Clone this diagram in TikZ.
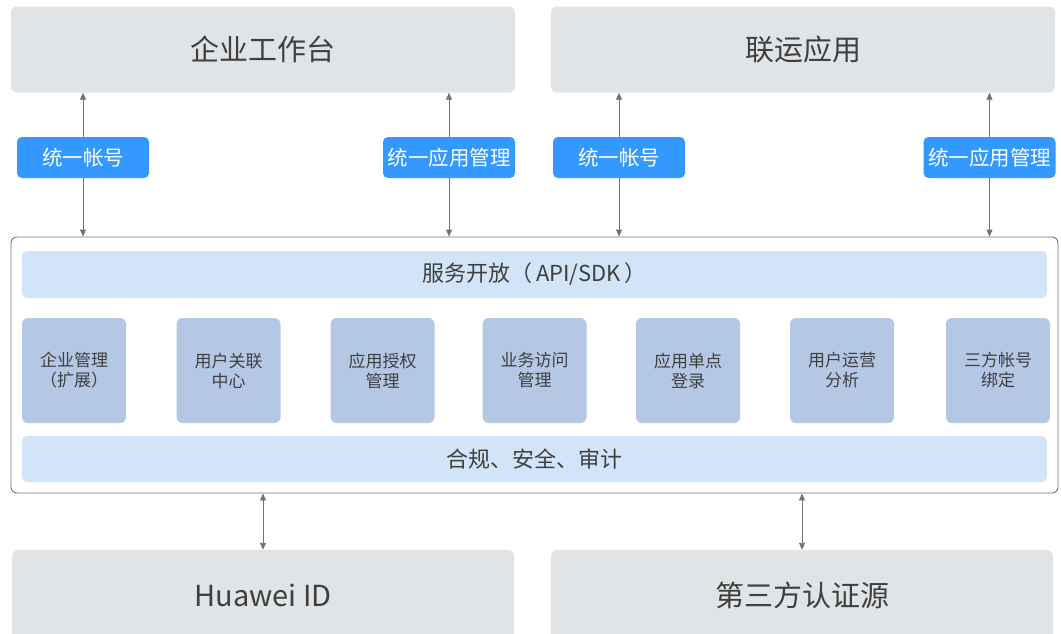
\documentclass[tikz,border=0pt]{standalone}
\usepackage{fontspec}
\setmainfont{Noto Sans CJK SC}
\usetikzlibrary{arrows.meta}

\definecolor{boxgray}{HTML}{E1E4E6}
\definecolor{tagblue}{HTML}{3399FF}
\definecolor{barblue}{HTML}{D2E5F8}
\definecolor{modblue}{HTML}{B4C7E5}
\definecolor{txtgray}{HTML}{3F3F3F}
\definecolor{linegray}{HTML}{737373}

\begin{document}
\begin{tikzpicture}[x=1pt,y=-1pt,
  outer/.style={fill=boxgray,rounded corners=6pt,minimum width=504pt,minimum height=86pt,inner sep=0pt,text=txtgray,font=\fontsize{29}{34}\selectfont},
  tag/.style={fill=tagblue,rounded corners=5pt,minimum width=132pt,minimum height=41pt,inner sep=0pt,text=white,font=\fontsize{20.5}{24}\selectfont},
  bar/.style={fill=barblue,rounded corners=5pt,minimum width=1025pt,minimum height=47pt,inner sep=0pt,text=txtgray,font=\fontsize{22}{26}\selectfont},
  module/.style={fill=modblue,rounded corners=6pt,minimum width=104pt,minimum height=105pt,inner sep=0pt,align=center,text=txtgray,font=\fontsize{17}{20}\selectfont},
  conn/.style={draw=linegray,line width=0.9pt},
  tip/.style={-{Triangle[length=7pt,width=6pt]}},
  both/.style={{Triangle[length=7pt,width=6pt]}-{Triangle[length=7pt,width=6pt]}}
]
\useasboundingbox (0,0) rectangle (1061,633);

% top
\node[outer] (wt) at (263,49.5) {企业工作台};
\node[outer] (ly) at (803,49.5) {联运应用};

\node[tag] (wtacc) at (83,157.5) {统一帐号};
\node[tag] (wtapp) at (449,157.5) {统一应用管理};
\node[tag] (lyacc) at (619,157.5) {统一帐号};
\node[tag] (lyapp) at (989.5,157.5) {统一应用管理};

% main box
\node[draw=linegray,line width=0.9pt,rounded corners=6pt,minimum width=1047pt,minimum height=256pt,inner sep=0pt] (core) at (534.5,365) {};

\node[bar] (api) at (534.5,274.5) {服务开放（\,API/SDK\,）};
\node[bar,minimum height=46pt] (audit) at (534.5,459) {合规、安全、审计};

\node[module] (m1) at (74,370.5) {企业管理\\（扩展）};
\node[module] (m2) at (228.5,370.5) {用户关联\\中心};
\node[module] (m3) at (382.5,370.5) {应用授权\\管理};
\node[module] (m4) at (534.5,370.5) {业务访问\\管理};
\node[module] (m5) at (688,370.5) {应用单点\\登录};
\node[module] (m6) at (842,370.5) {用户运营\\分析};
\node[module] (m7) at (998,370.5) {三方帐号\\绑定};

% bottom
\node[outer,minimum width=502pt,minimum height=90pt] (hw) at (263,595) {Huawei ID};
\node[outer,minimum width=502pt,minimum height=90pt] (tp) at (802,595) {第三方认证源};

% arrows
\draw[conn,tip] (wtacc.north) -- (wtacc.north |- wt.south);
\draw[conn,tip] (wtacc.south) -- (wtacc.south |- core.north);
\draw[conn,tip] (wtapp.north) -- (wtapp.north |- wt.south);
\draw[conn,tip] (wtapp.south) -- (wtapp.south |- core.north);
\draw[conn,tip] (lyacc.north) -- (lyacc.north |- ly.south);
\draw[conn,tip] (lyacc.south) -- (lyacc.south |- core.north);
\draw[conn,tip] (lyapp.north) -- (lyapp.north |- ly.south);
\draw[conn,tip] (lyapp.south) -- (lyapp.south |- core.north);

\draw[conn,both] (hw.north |- core.south) -- (hw.north);
\draw[conn,both] (tp.north |- core.south) -- (tp.north);

\end{tikzpicture}
\end{document}
